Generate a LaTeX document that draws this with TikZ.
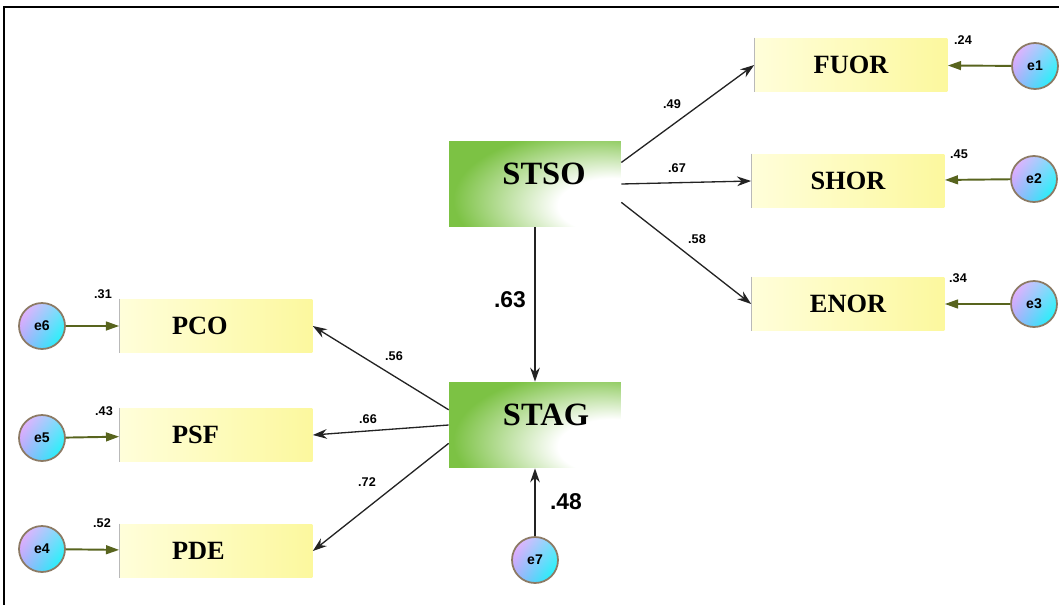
\documentclass[tikz,border=0pt]{standalone}
\usepackage{fontspec}
\setmainfont{Liberation Serif}
\setsansfont{Liberation Sans}
\usetikzlibrary{arrows.meta,shadings}

% colours of the model
\definecolor{latgreen}{RGB}{124,194,68}
\definecolor{obspale}{RGB}{255,254,218}
\definecolor{obsyellow}{RGB}{252,248,158}
\definecolor{errolive}{RGB}{88,100,30}
\definecolor{errrim}{RGB}{140,122,100}
\definecolor{errpink}{RGB}{255,170,255}
\definecolor{errsky}{RGB}{120,226,250}
\definecolor{errblue}{RGB}{165,170,250}
\definecolor{errcyan}{RGB}{0,255,250}
\definecolor{regline}{RGB}{35,35,35}

% green fading into white towards the lower right
\pgfdeclareradialshading{latfade}{\pgfpoint{27bp}{-15bp}}{%
  color(0bp)=(white); color(16bp)=(white); color(40bp)=(latgreen); color(100bp)=(latgreen)}

\begin{document}
\begin{tikzpicture}[x=0.02cm, y=-0.02cm,
    latent/.style={rectangle, minimum width=3.44cm, minimum height=1.72cm,
      inner sep=0pt, shading=latfade},
    latname/.style={font=\bfseries\fontsize{18.5}{19}\selectfont},
    observed/.style={rectangle, minimum width=3.86cm, minimum height=1.08cm,
      inner sep=0pt, left color=obspale, right color=obsyellow,
      font=\bfseries\fontsize{15}{15}\selectfont},
    observedL/.style={observed, text width=1.76cm, align=left},
    error/.style={circle, minimum size=0.92cm, inner sep=0pt, draw=errrim,
      line width=1pt, upper left=errpink, upper right=errsky,
      lower left=errblue, lower right=errcyan,
      font=\sffamily\bfseries\fontsize{8}{8}\selectfont},
    regpath/.style={draw=regline, line width=0.75pt,
      -{Stealth[length=8pt,width=5.5pt]}},
    errarrow/.style={draw=errolive, line width=1.1pt,
      -{Triangle[length=7.5pt,width=5pt]}},
    coef/.style={font=\sffamily\bfseries\fontsize{7.2}{8}\selectfont, inner sep=0pt},
    bigcoef/.style={font=\sffamily\bfseries\fontsize{13}{14}\selectfont, inner sep=0pt}
  ]

    % page size and frame
    \useasboundingbox (0,0) rectangle (1059,605);
    \draw[line width=1.2pt] (4,605) -- (4,7) -- (1059,7);

    % latent variables
    \node[latent, label={[latname, xshift=0.18cm, yshift=0.2cm]center:STSO}] (STSO) at (535,184) {};
    \node[latent, label={[latname, xshift=0.22cm, yshift=0.2cm]center:STAG}] (STAG) at (535,425) {};

    % indicators of STSO
    \node[observed] (FUOR) at (851,65) {FUOR};
    \node[observed] (SHOR) at (848,181) {SHOR};
    \node[observed] (ENOR) at (848,304) {ENOR};

    % indicators of STAG
    \node[observedL] (PCO) at (216,326) {PCO};
    \node[observedL] (PSF) at (216,435) {PSF};
    \node[observedL] (PDE) at (216,551) {PDE};

    % thin grey left edge of the indicators
    \foreach \b in {FUOR,SHOR,ENOR,PCO,PSF,PDE}
      \draw[gray!55, line width=0.4pt] (\b.north west) -- (\b.south west);

    % error terms
    \node[error] (e1) at (1035,66) {e1};
    \node[error] (e2) at (1034,179) {e2};
    \node[error] (e3) at (1034,304) {e3};
    \node[error] (e6) at (42,326) {e6};
    \node[error] (e5) at (42,438) {e5};
    \node[error] (e4) at (42,549) {e4};
    \node[error] (e7) at (535,560) {e7};

    % regression paths
    \draw[regpath] (STSO.14) -- (FUOR.west);
    \draw[regpath] (STSO.east) -- (SHOR.west);
    \draw[regpath] (STSO.-12) -- (ENOR.west);
    \draw[regpath] (STSO) -- (STAG);
    \draw[regpath] (STAG.170) -- (PCO.east);
    \draw[regpath] (STAG.west) -- (PSF.east);
    \draw[regpath] (STAG.192) -- (PDE.east);
    \draw[regpath] (e7) -- (STAG);

    % error arrows
    \draw[errarrow] (e1) -- (FUOR);
    \draw[errarrow] (e2) -- (SHOR);
    \draw[errarrow] (e3) -- (ENOR);
    \draw[errarrow] (e6) -- (PCO);
    \draw[errarrow] (e5) -- (PSF);
    \draw[errarrow] (e4) -- (PDE);

    % path coefficients
    \node[coef] (c49) at (672,104) {.49};
    \node[coef] (c67) at (677,168) {.67};
    \node[coef] (c58) at (697,239) {.58};
    \node[coef] (c56) at (394,356) {.56};
    \node[coef] (c66) at (368,419) {.66};
    \node[coef] (c72) at (367,482) {.72};
    \node[bigcoef] (c63) at (510,300) {.63};
    \node[bigcoef] (c48) at (566,502) {.48};

    % squared multiple correlations
    \node[coef] (r24) at (963,40) {.24};
    \node[coef] (r45) at (959,154) {.45};
    \node[coef] (r34) at (958,278) {.34};
    \node[coef] (r31) at (103,294) {.31};
    \node[coef] (r43) at (104,411) {.43};
    \node[coef] (r52) at (102,523) {.52};

\end{tikzpicture}
\end{document}
